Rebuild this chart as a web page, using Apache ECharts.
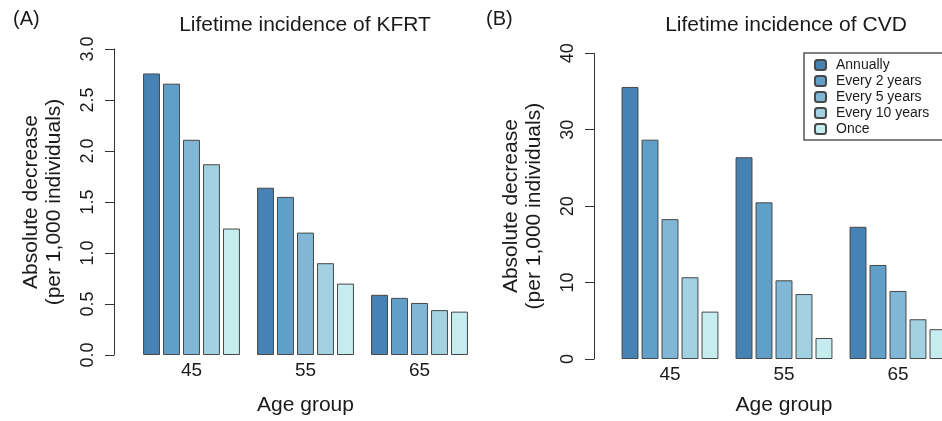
<!DOCTYPE html>
<html>
<head>
<meta charset="utf-8">
<script src="https://cdn.jsdelivr.net/npm/echarts@6/dist/echarts.min.js"></script>
<style>
html,body{margin:0;padding:0;background:#fff;overflow:hidden;width:942px;height:421px;}
#c{width:980px;height:421px;}
</style>
</head>
<body>
<div id="c"></div>
<script>
const categories = ['45', '55', '65'];
const seriesNames = ['Annually', 'Every 2 years', 'Every 5 years', 'Every 10 years', 'Once'];
const colors = ['#4682b4', '#60a0c8', '#80b6d6', '#a2d1e2', '#c5ecee'];

// Panel A: Lifetime incidence of KFRT
const kfrtAnnually = [2.76, 1.64, 0.59];
const kfrtEvery2 = [2.66, 1.55, 0.56];
const kfrtEvery5 = [2.11, 1.20, 0.51];
const kfrtEvery10 = [1.87, 0.90, 0.44];
const kfrtOnce = [1.24, 0.70, 0.425];

// Panel B: Lifetime incidence of CVD
const cvdAnnually = [35.6, 26.4, 17.3];
const cvdEvery2 = [28.7, 20.5, 12.3];
const cvdEvery5 = [18.3, 10.3, 8.9];
const cvdEvery10 = [10.7, 8.5, 5.2];
const cvdOnce = [6.2, 2.75, 3.9];

const kfrt = [kfrtAnnually, kfrtEvery2, kfrtEvery5, kfrtEvery10, kfrtOnce];
const cvd = [cvdAnnually, cvdEvery2, cvdEvery5, cvdEvery10, cvdOnce];

const FONT = '"Liberation Sans", Arial, Helvetica, sans-serif';
const TXT = '#1a1a1a';

function xAxisFor(idx, nameGap) {
  return {
    type: 'category', gridIndex: idx, data: categories,
    axisLine: {show: false}, axisTick: {show: false},
    axisLabel: {color: TXT, fontSize: 19, fontFamily: FONT, margin: 6},
    name: 'Age group', nameLocation: 'middle', nameGap: nameGap,
    nameTextStyle: {color: TXT, fontSize: 21, fontFamily: FONT}
  };
}
function yAxisFor(idx, max, interval, offset, decimals) {
  return {
    type: 'value', gridIndex: idx, min: 0, max: max, interval: interval,
    offset: offset,
    axisLine: {show: true, lineStyle: {color: '#333', width: 1}},
    axisTick: {show: true, length: 9, lineStyle: {color: '#333'}},
    splitLine: {show: false},
    axisLabel: {color: TXT, fontSize: 18, fontFamily: FONT, rotate: 90, margin: 17,
      formatter: v => v.toFixed(decimals)},
    name: 'Absolute decrease\n(per 1,000 individuals)',
    nameLocation: 'middle', nameRotate: 90, nameGap: 48,
    nameTextStyle: {color: TXT, fontSize: 21, fontFamily: FONT, lineHeight: 23}
  };
}

const series = [];
[kfrt, cvd].forEach((panel, p) => {
  panel.forEach((vals, i) => {
    series.push({
      type: 'bar', name: seriesNames[i], xAxisIndex: p, yAxisIndex: p,
      data: vals, barGap: '18%', barCategoryGap: '15%',
      itemStyle: {color: colors[i], borderColor: '#484848', borderWidth: 1},
      emphasis: {disabled: true}
    });
  });
});

const option = {
  animation: false,
  backgroundColor: '#fff',
  textStyle: {fontFamily: FONT},
  title: [
    {text: '(A)', left: 8, top: 4, textStyle: {fontSize: 20, fontWeight: 'normal', color: TXT, fontFamily: FONT}},
    {text: 'Lifetime incidence of KFRT', left: 300, top: 10, textAlign: 'center',
      textStyle: {fontSize: 21, fontWeight: 'normal', color: TXT, fontFamily: FONT}},
    {text: '(B)', left: 481, top: 4, textStyle: {fontSize: 20, fontWeight: 'normal', color: TXT, fontFamily: FONT}},
    {text: 'Lifetime incidence of CVD', left: 781, top: 10, textAlign: 'center',
      textStyle: {fontSize: 21, fontWeight: 'normal', color: TXT, fontFamily: FONT}}
  ],
  legend: {
    data: seriesNames, orient: 'vertical', left: 804, top: 53,
    itemWidth: 11, itemHeight: 10, itemGap: 2,
    padding: [5, 30, 4, 10],
    borderColor: '#555', borderWidth: 1.5,
    selectedMode: false,
    textStyle: {fontSize: 14, lineHeight: 14, color: TXT, fontFamily: FONT, padding: [0, 0, 0, 5]}
  },
  grid: [
    {left: 134.5, width: 342, top: 49, bottom: 66, containLabel: false},
    {left: 613, width: 342, top: 53.3, bottom: 62, containLabel: false}
  ],
  xAxis: [xAxisFor(0, 40), xAxisFor(1, 36)],
  yAxis: [yAxisFor(0, 3, 0.5, 20.5, 1), yAxisFor(1, 40, 10, 19, 0)],
  series: series
};

const chart = echarts.init(document.getElementById('c'), null, {renderer: 'canvas'});
chart.setOption(option);
</script>
</body>
</html>
